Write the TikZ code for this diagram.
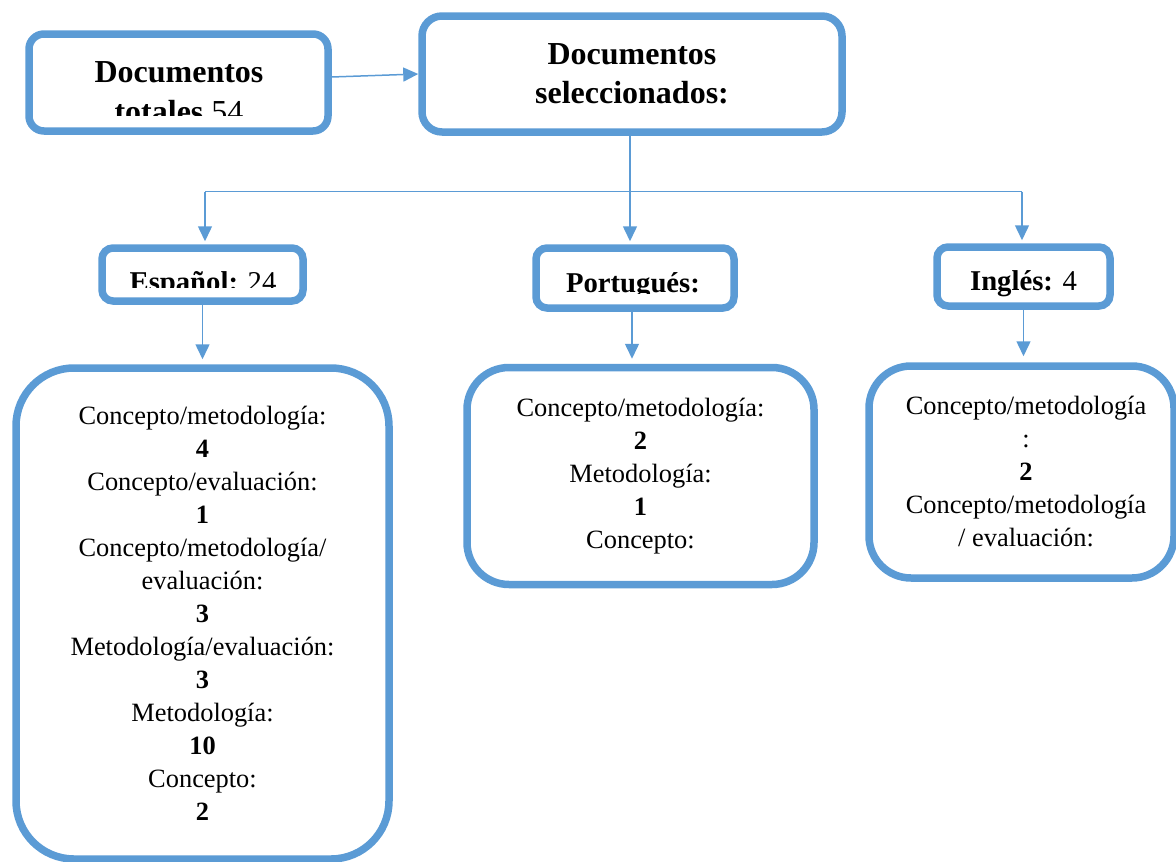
\documentclass[tikz,border=0pt]{standalone}
\usepackage{fontspec}
\setmainfont{Liberation Serif}
\usetikzlibrary{arrows.meta}
\definecolor{boxblue}{HTML}{5B9BD5}
\begin{document}
\begin{tikzpicture}[x=1pt,y=-1pt,
  box/.style={draw=boxblue, line width=7.5pt, rounded corners=#1, fill=white, inner sep=0pt},
  box/.default=15pt,
  title/.style={font=\fontsize{32}{40}\selectfont\bfseries, anchor=base, inner sep=0pt},
  lang/.style={font=\fontsize{28.7}{34}\selectfont\bfseries, anchor=base, inner sep=0pt},
  bodytext/.style={font=\fontsize{26.4}{33}\selectfont, align=center, inner sep=0pt},
  link/.style={draw=boxblue, line width=1.5pt},
  conn/.style={link, -{Triangle[width=14pt,length=15pt]}}]
\useasboundingbox (0,0) rectangle (1176,862);

% top boxes
\node[box=15pt, minimum width=299pt, minimum height=97pt] (tot) at (178.5,82.5) {};
\node[box=20pt, minimum width=420pt, minimum height=116pt] (sel) at (632,74) {};
\node[title] (t1a) at (179,82) {Documentos};
\begin{scope}
  \clip (33,38) rectangle (324,115);
  \node[title] (t1b) at (179,122) {totales \textmd{54}};
\end{scope}
\node[title] (t2a) at (632,64) {Documentos};
\node[title] (t2b) at (632,103) {seleccionados:};

% language boxes
\node[box=11pt, minimum width=201pt, minimum height=53pt] (esp) at (202.5,274.5) {};
\node[box=11pt, minimum width=198pt, minimum height=60pt] (por) at (635,278) {};
\node[box=11pt, minimum width=173pt, minimum height=59pt] (ing) at (1023.5,276.5) {};
\begin{scope}
  \clip (106,252) rectangle (299,287);
  \node[lang] (espt) at (203,291) {Español: \textmd{24}};
\end{scope}
\begin{scope}
  \clip (540,252) rectangle (730,293.5);
  \node[lang] (port) at (633,292) {Portugués:};
\end{scope}
\node[lang] (ingt) at (1023.5,290) {Inglés: \textmd{4}};

% bottom boxes
\node[box=58pt, minimum width=373pt, minimum height=491pt, bodytext] (espb) at (202.5,613.5)
  {Concepto/metodología:\\ \textbf{4}\\ Concepto/evaluación:\\ \textbf{1}\\ Concepto/metodología/\\ evaluación:\\ \textbf{3}\\ Metodología/evaluación:\\ \textbf{3}\\ Metodología:\\ \textbf{10}\\ Concepto:\\ \textbf{2}};
\node[box=42pt, minimum width=347pt, minimum height=217pt, bodytext] (porb) at (640.5,476)
  {Concepto/metodología:\\ \textbf{2}\\ Metodología:\\ \textbf{1}\\ Concepto:};
\node[box=42pt, minimum width=305pt, minimum height=212pt] (ingb) at (1021.5,472) {};
\node[bodytext] (ingbt) at (1026,472)
  {Concepto/metodología\\ :\\ \textbf{2}\\ Concepto/metodología\\ / evaluación:};

% connectors
\draw[conn] ([yshift=5.5pt]tot.east) -- (sel.west);
\coordinate (hubL) at (205,191.5);
\coordinate (hubR) at (1022,191.5);
\draw[link] (hubL) -- (hubR);
\draw[conn, shorten >=3pt] (hubL) -- (hubL |- esp.north);
\draw[conn, shorten >=3pt] (hubR) -- (hubR |- ing.north);
\draw[conn, shorten >=3pt] ([xshift=-2pt]sel.south) -- ([xshift=-2pt]sel.south |- por.north);
\draw[conn, shorten >=5pt] (esp.south) -- (esp.south |- espb.north);
\draw[conn, shorten >=5pt] ([xshift=-3pt]por.south) -- ([xshift=-3pt]por.south |- porb.north);
\draw[conn, shorten >=6pt] (ing.south) -- (ing.south |- ingb.north);
\end{tikzpicture}
\end{document}
